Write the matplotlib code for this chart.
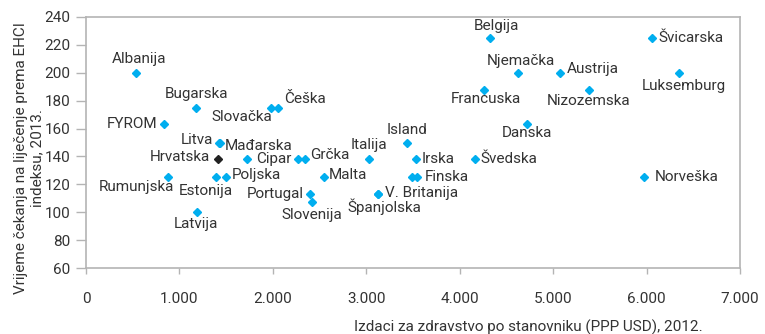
import matplotlib.pyplot as plt
from matplotlib.ticker import FuncFormatter

plt.rcParams['font.family'] = ['Roboto', 'DejaVu Sans']

# zemlje, izdaci po stanovniku (PPP USD) i EHCI bodovi za cekanje
countries = ['Albanija', 'Bugarska', 'FYROM', 'Slovačka', 'Češka', 'Litva',
             'Mađarska', 'Hrvatska', 'Cipar', '', 'Grčka', 'Italija',
             'Rumunjska', 'Estonija', 'Poljska', 'Malta', 'Portugal',
             'Slovenija', 'Latvija', 'Španjolska', 'V. Britanija', 'Island',
             'Irska', 'Švedska', '', 'Finska', 'Norveška', 'Belgija',
             'Švicarska', 'Njemačka', 'Austrija', 'Luksemburg', 'Francuska',
             'Nizozemska', 'Danska']
spending = [535, 1174, 838, 1981, 2052, 1427,
            1430, 1417, 1724, 2266, 2345, 3033,
            881, 1392, 1495, 2548, 2398,
            2423, 1185, 3125, 3130, 3440,
            3530, 4165, 3494, 3540, 5974, 4325,
            6063, 4622, 5075, 6349, 4265,
            5382, 4725]
waiting = [200, 175, 163, 175, 175, 150,
           150, 138, 138, 138, 138, 138,
           125, 125, 125, 125, 113,
           107, 100, 113, 113, 150,
           138, 138, 125, 125, 125, 225,
           225, 200, 200, 200, 188,
           188, 163]
highlight = 'Hrvatska'

# polozaj natpisa: pomak u pikselima i poravnanje
placement = {
    'Albanija': (3, 14, 'center'), 'Bugarska': (1, 14, 'center'),
    'FYROM': (-7, 0, 'right'), 'Slovačka': (1, -9, 'right'),
    'Češka': (6, 9, 'left'), 'Litva': (-6, 3, 'right'),
    'Mađarska': (5, -3, 'left'), 'Hrvatska': (-8, 2, 'right'),
    'Cipar': (9, 0, 'left'), 'Grčka': (5, 4, 'left'),
    'Italija': (0, 14, 'center'), 'Rumunjska': (6, -10, 'right'),
    'Estonija': (-10, -14, 'center'), 'Poljska': (6, 2, 'left'),
    'Malta': (5, 2, 'left'), 'Portugal': (-6, 0, 'right'),
    'Slovenija': (-1, -13, 'center'), 'Latvija': (-1, -12, 'center'),
    'Španjolska': (6, -13, 'center'), 'V. Britanija': (7, 1, 'left'),
    'Island': (0, 13, 'center'), 'Irska': (6, 0, 'left'),
    'Švedska': (5, 0, 'left'), 'Finska': (8, 0, 'left'),
    'Norveška': (11, 0, 'left'), 'Belgija': (6, 12, 'center'),
    'Švicarska': (6, 0, 'left'), 'Njemačka': (3, 12, 'center'),
    'Austrija': (7, 4, 'left'), 'Luksemburg': (5, -13, 'center'),
    'Francuska': (1, -9, 'center'), 'Nizozemska': (0, -11, 'center'),
    'Danska': (-1, -9, 'center'),
}

blue = '#00aeef'
text_col = '#333333'
grey = '#b4b4b4'

fig = plt.figure(figsize=(7.65, 3.34), dpi=100)
ax = fig.add_axes([86 / 765, 1 - 268 / 334, 654 / 765, 251 / 334])

colors = ['#222222' if c == highlight else blue for c in countries]
for x, y, c in zip(spending, waiting, colors):
    ax.plot(x, y, marker='D', ms=4.4, color=c, mec=c, ls='none', zorder=3)

for name, x, y in zip(countries, spending, waiting):
    if not name:
        continue
    dx, dy, ha = placement[name]
    ax.annotate(name, (x, y), xytext=(dx, dy), textcoords='offset pixels',
                ha=ha, va='center', fontsize=11, color=text_col)

ax.set_xlim(0, 7000)
ax.set_ylim(60, 240)
ax.set_xticks(range(0, 7001, 1000))
ax.set_yticks(range(60, 241, 20))
ax.xaxis.set_major_formatter(FuncFormatter(lambda v, p: f'{int(v):,}'.replace(',', '.')))

for s in ax.spines.values():
    s.set_color(grey)
    s.set_linewidth(1.2)
ax.tick_params(axis='x', length=4, width=1, color=grey, pad=13,
               labelsize=11, labelcolor=text_col)
ax.tick_params(axis='y', length=7, width=1, color=grey, pad=4,
               labelsize=11, labelcolor=text_col)

fig.text(29 / 765, 1 - 158 / 334,
         'Vrijeme čekanja na liječenje prema EHCI\nindeksu, 2013.',
         rotation=90, ha='center', va='center', multialignment='center',
         fontsize=11, color=text_col)
fig.text(528 / 765, 1 - 327 / 334,
         'Izdaci za zdravstvo po stanovniku (PPP USD), 2012.',
         ha='center', va='center', fontsize=11, color=text_col)

fig.savefig('out.png', dpi=100)
